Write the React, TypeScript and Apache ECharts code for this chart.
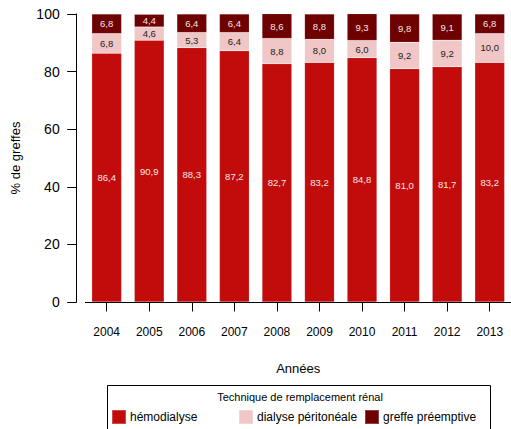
import React, { useEffect, useRef } from "react";
import * as echarts from "echarts";

const years = ["2004", "2005", "2006", "2007", "2008", "2009", "2010", "2011", "2012", "2013"];
const hemodialyse = [86.4, 90.9, 88.3, 87.2, 82.7, 83.2, 84.8, 81.0, 81.7, 83.2];
const dialysePeritoneale = [6.8, 4.6, 5.3, 6.4, 8.8, 8.0, 6.0, 9.2, 9.2, 10.0];
const greffePreemptive = [6.8, 4.4, 6.4, 6.4, 8.6, 8.8, 9.3, 9.8, 9.1, 6.8];
const yTicks = [0, 20, 40, 60, 80, 100];

const FONT = "Liberation Sans";
const C_HEMO = "#C20B0B";
const C_DP = "#F0C6C6";
const C_GP = "#6E0000";

const fmt = (p: any) => Number(p.value).toFixed(1).replace(".", ",");

export default function App() {
  const ref = useRef<HTMLDivElement>(null);
  useEffect(() => {
    if (!ref.current) return;
    const chart = echarts.init(ref.current, null, { renderer: "svg" });
    const mkSeries = (name: string, data: number[], color: string, labelColor: string) => ({
      name,
      type: "bar",
      stack: "total",
      data,
      barCategoryGap: "30%",
      itemStyle: { color, borderColor: "rgba(255,255,255,0.25)", borderWidth: 0.5 },
      label: {
        show: true,
        position: "inside",
        color: labelColor,
        fontFamily: FONT,
        fontSize: 9.5,
        formatter: fmt,
      },
      emphasis: { disabled: true },
    });
    const legendItem = (name: string, left: number) => ({
      data: [name],
      left,
      top: 409,
      itemWidth: 14,
      itemHeight: 14,
      itemGap: 0,
      padding: 0,
      selectedMode: false,
      icon: "rect",
      textStyle: { fontFamily: FONT, fontSize: 12, color: "#000", padding: [0, 0, 0, -1] },
    });
    chart.setOption({
      animation: false,
      textStyle: { fontFamily: FONT },
      grid: { left: 85.4, right: -6.6, top: 14, bottom: 127, containLabel: false },
      xAxis: {
        type: "category",
        data: years,
        name: "Années",
        nameLocation: "middle",
        nameGap: 60,
        nameTextStyle: { fontFamily: FONT, fontSize: 13, color: "#000" },
        axisLine: { show: true, lineStyle: { color: "#000", width: 1 } },
        axisTick: { show: true, alignWithLabel: true, length: 9.5, lineStyle: { color: "#000" } },
        axisLabel: { fontFamily: FONT, fontSize: 12, color: "#000", margin: 24 },
      },
      yAxis: {
        type: "value",
        min: 0,
        max: 100,
        interval: 20,
        offset: 8.7,
        name: "% de greffes",
        nameLocation: "middle",
        nameGap: 55,
        nameTextStyle: { fontFamily: FONT, fontSize: 13, color: "#000" },
        axisLine: { show: true, lineStyle: { color: "#000", width: 1 } },
        axisTick: { show: true, length: 9.5, lineStyle: { color: "#000" } },
        axisLabel: {
          fontFamily: FONT,
          fontSize: 14,
          color: "#000",
          margin: 17,
          formatter: (v: number) => (yTicks.includes(v) ? String(v) : ""),
        },
        splitLine: { show: false },
      },
      legend: [
        legendItem("hémodialyse", 111),
        legendItem("dialyse péritonéale", 238),
        legendItem("greffe préemptive", 364),
      ],
      graphic: [
        {
          type: "rect",
          shape: { x: 107.5, y: 385.5, width: 383, height: 60 },
          style: { fill: "none", stroke: "#000", lineWidth: 1 },
        },
        {
          type: "text",
          x: 300,
          y: 397,
          style: {
            text: "Technique de remplacement rénal",
            fontFamily: FONT,
            fontSize: 11,
            fill: "#000",
            align: "center",
            verticalAlign: "middle",
          },
        },
      ],
      series: [
        mkSeries("hémodialyse", hemodialyse, C_HEMO, "#fbe9e9"),
        mkSeries("dialyse péritonéale", dialysePeritoneale, C_DP, "#222"),
        mkSeries("greffe préemptive", greffePreemptive, C_GP, "#f6e6e6"),
      ],
    });
    return () => chart.dispose();
  }, []);
  return (
    <div
      ref={ref}
      style={{ position: "fixed", left: 0, top: 0, width: 511, height: 429, background: "#fff" }}
    />
  );
}
